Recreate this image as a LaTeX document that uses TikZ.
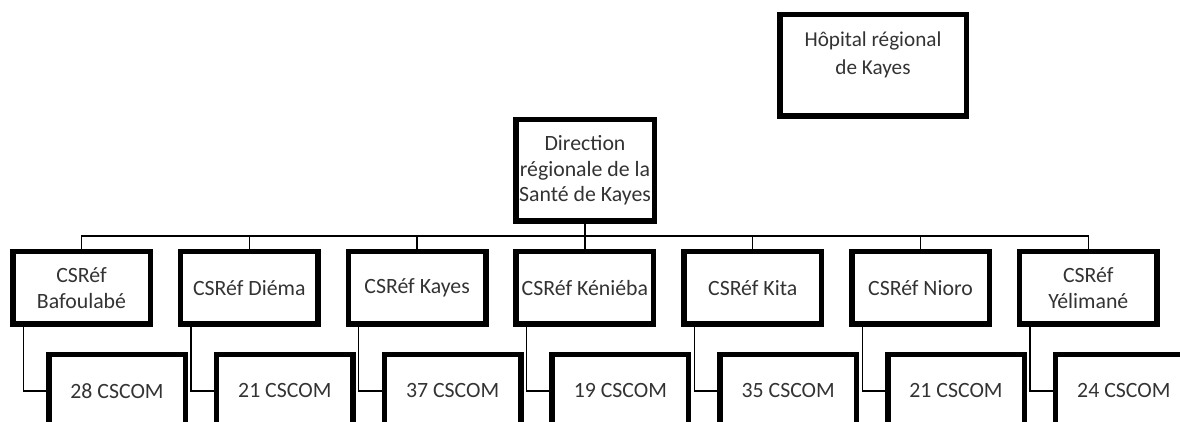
\documentclass[tikz,border=0pt]{standalone}
\usepackage{fontspec}
\setmainfont{Carlito}
\usepackage{tikz}
\usetikzlibrary{positioning}
\tikzset{
  org/.style   ={rectangle,draw,line width=2.75pt,align=center,inner sep=1pt,
                 font=\fontsize{10.9}{12.75}\selectfont,text=black!80},
  chief/.style ={org,minimum width=69.25pt,minimum height=50.75pt},
  hosp/.style  ={org,minimum width=93.25pt,minimum height=50.75pt,
                 font=\fontsize{10.6}{14}\selectfont,text depth=12.5pt},
  csref/.style ={org,minimum width=68.75pt,minimum height=36.25pt},
  cscom/.style ={org,minimum width=68.25pt,minimum height=36.25pt},
  link/.style  ={line width=0.65pt},
}

\begin{document}
\begin{tikzpicture}[x=0.5pt,y=-0.5pt]
  \useasboundingbox (0,0) rectangle (1180,422);
  \clip (0,0) rectangle (1180,422);
  \node[hosp]  (hop) at (873,65.5)  {Hôpital régional\\de Kayes};
  \node[chief] (dir) at (585,170.5) {Direction\\régionale de la\\Santé de Kayes};
  \coordinate (bus) at (0,236);
  % CSRef level
  \node[csref] (r1) at (81.5,288)   {CSRéf\\Bafoulabé};
  \node[csref] (r2) at (249.3,288)  {CSRéf Diéma};
  \node[csref] (r3) at (417.1,288)  {CSRéf Kayes};
  \node[csref] (r4) at (584.9,288)  {CSRéf Kéniéba};
  \node[csref] (r5) at (752.7,288)  {CSRéf Kita};
  \node[csref] (r6) at (920.5,288)  {CSRéf Nioro};
  \node[csref] (r7) at (1088.3,288) {CSRéf\\Yélimané};
  % CSCOM level
  \node[cscom] (c1) at (117,391)    {28 CSCOM};
  \node[cscom] (c2) at (284.8,391)  {21 CSCOM};
  \node[cscom] (c3) at (452.6,391)  {37 CSCOM};
  \node[cscom] (c4) at (620.4,391)  {19 CSCOM};
  \node[cscom] (c5) at (788.2,391)  {35 CSCOM};
  \node[cscom] (c6) at (956,391)    {21 CSCOM};
  \node[cscom] (c7) at (1123.8,391) {24 CSCOM};
  \draw[link] (dir.south) -- (dir.south |- bus);
  \draw[link] (r1.north) |- (dir.south |- bus);
  \draw[link] (r2.north) |- (dir.south |- bus);
  \draw[link] (r3.north) |- (dir.south |- bus);
  \draw[link] (r4.north) |- (dir.south |- bus);
  \draw[link] (r5.north) |- (dir.south |- bus);
  \draw[link] (r6.north) |- (dir.south |- bus);
  \draw[link] (r7.north) |- (dir.south |- bus);
  \draw[link] ([xshift=6.6pt]r1.south west) |- (c1.west);
  \draw[link] ([xshift=6.6pt]r2.south west) |- (c2.west);
  \draw[link] ([xshift=6.6pt]r3.south west) |- (c3.west);
  \draw[link] ([xshift=6.6pt]r4.south west) |- (c4.west);
  \draw[link] ([xshift=6.6pt]r5.south west) |- (c5.west);
  \draw[link] ([xshift=6.6pt]r6.south west) |- (c6.west);
  \draw[link] ([xshift=6.6pt]r7.south west) |- (c7.west);
\end{tikzpicture}
\end{document}
